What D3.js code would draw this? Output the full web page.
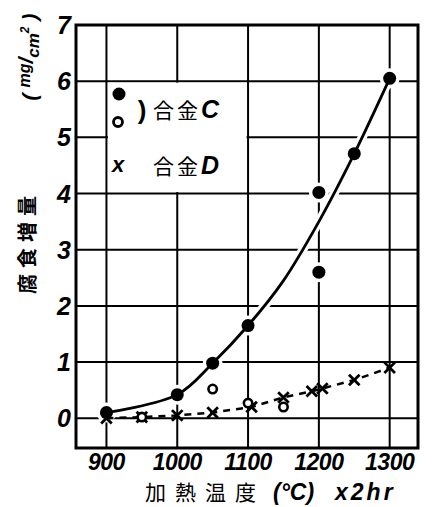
<!DOCTYPE html>
<html>
<head>
<meta charset="utf-8">
<script src="https://cdn.jsdelivr.net/npm/d3@7"></script>
<style>
  body { margin: 0; background: #fff; }
  svg { display: block; }
  .tick-label { font-family: "Liberation Sans", sans-serif; font-weight: bold; font-style: italic; fill: #000; }
  .cjk { font-family: "Noto Sans CJK JP", sans-serif; fill: #000; }
</style>
</head>
<body>
<div id="chart"></div>
<script>
// alloy C, filled points (measured)
const cTemps = [900, 1000, 1050, 1100, 1200, 1200, 1250, 1300];
const cValues = [0.1, 0.42, 0.98, 1.65, 4.02, 2.6, 4.71, 6.05];
// alloy C, open points
const cOpenTemps = [950, 1050, 1100, 1150];
const cOpenValues = [0.02, 0.52, 0.27, 0.2];
// fitted curve for alloy C
const curveTemps = [900, 1000, 1050, 1100, 1150, 1200, 1250, 1300];
const curveValues = [0.1, 0.42, 0.98, 1.65, 2.45, 3.5, 4.71, 6.05];
// alloy D
const dTemps = [900, 950, 1000, 1050, 1105, 1150, 1190, 1205, 1250, 1300];
const dValues = [0.0, 0.02, 0.05, 0.1, 0.2, 0.37, 0.48, 0.53, 0.68, 0.9];

const xTicks = [900, 1000, 1100, 1200, 1300];
const yTicks = [0, 1, 2, 3, 4, 5, 6, 7];

const width = 433, height = 507;
const margin = {top: 25, right: 15, bottom: 59, left: 76};

const svg = d3.select('#chart').append('svg')
  .attr('width', width).attr('height', height);

const x = d3.scaleLinear().domain([857, 1340]).range([margin.left, width - margin.right]);
const y = d3.scaleLinear().domain([-0.53, 7]).range([height - margin.bottom, margin.top]);

// grid
const grid = svg.append('g').attr('stroke', '#000').attr('stroke-width', 2);
grid.selectAll('.vg').data(xTicks).enter().append('line')
  .attr('x1', d => x(d)).attr('x2', d => x(d))
  .attr('y1', y.range()[0]).attr('y2', y.range()[1]);
grid.selectAll('.hg').data(yTicks.slice(0, -1)).enter().append('line')
  .attr('x1', x.range()[0]).attr('x2', x.range()[1])
  .attr('y1', d => y(d)).attr('y2', d => y(d));

// legend box (white, sits in the 900-1100 / 4-6 cell block)
svg.append('rect')
  .attr('x', x(900) + 1.5).attr('y', y(6) + 1.5)
  .attr('width', x(1100) - x(900) - 3).attr('height', y(4) - y(6) - 3)
  .attr('fill', '#fff');

// frame
svg.append('rect')
  .attr('x', x.range()[0]).attr('y', y.range()[1])
  .attr('width', x.range()[1] - x.range()[0]).attr('height', y.range()[0] - y.range()[1])
  .attr('fill', 'none').attr('stroke', '#000').attr('stroke-width', 3);

const curvePts = curveTemps.map((t, i) => [x(t), y(curveValues[i])]);
const line = d3.line().curve(d3.curveCatmullRom.alpha(0.5));

// white halo so grid breaks around the curve and dots
svg.append('path').attr('d', line(curvePts))
  .attr('fill', 'none').attr('stroke', '#fff').attr('stroke-width', 9);
svg.selectAll('.halo').data(cTemps).enter().append('circle')
  .attr('cx', d => x(d)).attr('cy', (d, i) => y(cValues[i]))
  .attr('r', 10).attr('fill', '#fff');

svg.append('path').attr('d', line(curvePts))
  .attr('fill', 'none').attr('stroke', '#000').attr('stroke-width', 2.8);

// alloy D dashed line
const dPts = dTemps.map((t, i) => [x(t), y(dValues[i])]);
svg.append('path').attr('d', d3.line()(dPts))
  .attr('fill', 'none').attr('stroke', '#000').attr('stroke-width', 2.5)
  .attr('stroke-dasharray', '7,6');

// markers
svg.selectAll('.dx').data(dTemps).enter().append('path')
  .attr('d', d3.symbol(d3.symbolX, 75)())
  .attr('transform', (d, i) => `translate(${x(d)},${y(dValues[i])})`)
  .attr('fill', 'none').attr('stroke', '#000').attr('stroke-width', 2.8);

svg.selectAll('.co').data(cOpenTemps).enter().append('circle')
  .attr('cx', d => x(d)).attr('cy', (d, i) => y(cOpenValues[i]))
  .attr('r', 4.2).attr('fill', '#fff').attr('stroke', '#000').attr('stroke-width', 2.6);

svg.selectAll('.cf').data(cTemps).enter().append('circle')
  .attr('cx', d => x(d)).attr('cy', (d, i) => y(cValues[i]))
  .attr('r', 6.5).attr('fill', '#000');

// tick labels
svg.selectAll('.xt').data(xTicks).enter().append('text')
  .attr('class', 'tick-label')
  .attr('x', d => x(d)).attr('y', 470)
  .attr('text-anchor', 'middle').attr('font-size', 23).attr('letter-spacing', -0.5)
  .text(d => d);
svg.selectAll('.yt').data(yTicks).enter().append('text')
  .attr('class', 'tick-label')
  .attr('x', 71).attr('y', d => y(d) + 9)
  .attr('text-anchor', 'end').attr('font-size', 25)
  .text(d => d);

// axis titles
const xt = svg.append('text').attr('x', 145).attr('y', 500).attr('font-size', 21);
xt.append('tspan').attr('class', 'cjk').attr('letter-spacing', 9).text('加熱温度');
xt.append('tspan').attr('class', 'tick-label').attr('x', 273).attr('font-size', 23).text('(°C)');
xt.append('tspan').attr('class', 'tick-label').attr('x', 335).attr('font-size', 23)
  .attr('letter-spacing', 3).text('x2hr');

svg.append('text').attr('class', 'cjk')
  .attr('transform', 'translate(35,242) rotate(-90)')
  .attr('text-anchor', 'middle').attr('font-size', 20).attr('font-weight', 'bold')
  .attr('letter-spacing', 6)
  .text('腐食増量');

const unit = svg.append('text').attr('class', 'tick-label')
  .attr('transform', 'translate(37,57) rotate(-90)')
  .attr('text-anchor', 'middle').attr('font-size', 21);
unit.append('tspan').text('( ');
unit.append('tspan').attr('dy', -7).attr('font-size', 16).text('mg');
unit.append('tspan').attr('dy', 3).text('/');
unit.append('tspan').attr('dy', 6).attr('font-size', 17).text('cm');
unit.append('tspan').attr('dy', -10).attr('font-size', 12).text('2');
unit.append('tspan').attr('dy', 8).text(' )');

// legend
svg.append('circle').attr('cx', 119).attr('cy', 94).attr('r', 6.5).attr('fill', '#000');
svg.append('circle').attr('cx', 118).attr('cy', 122).attr('r', 4.5)
  .attr('fill', '#fff').attr('stroke', '#000').attr('stroke-width', 2.8);
svg.append('text').attr('x', 142).attr('y', 119).attr('font-size', 26).attr('font-weight', 'bold')
  .attr('font-family', 'Liberation Sans, sans-serif').attr('text-anchor', 'middle').text(')');
const lc = svg.append('text').attr('x', 153).attr('y', 118).attr('font-size', 21);
lc.append('tspan').attr('class', 'cjk').attr('letter-spacing', 3).text('合金');
lc.append('tspan').attr('class', 'tick-label').attr('font-size', 25).text('C');
svg.append('text').attr('class', 'tick-label').attr('x', 118).attr('y', 172)
  .attr('text-anchor', 'middle').attr('font-size', 22).text('x');
const ld = svg.append('text').attr('x', 153).attr('y', 174).attr('font-size', 21);
ld.append('tspan').attr('class', 'cjk').attr('letter-spacing', 3).text('合金');
ld.append('tspan').attr('class', 'tick-label').attr('font-size', 25).text('D');
</script>
</body>
</html>
